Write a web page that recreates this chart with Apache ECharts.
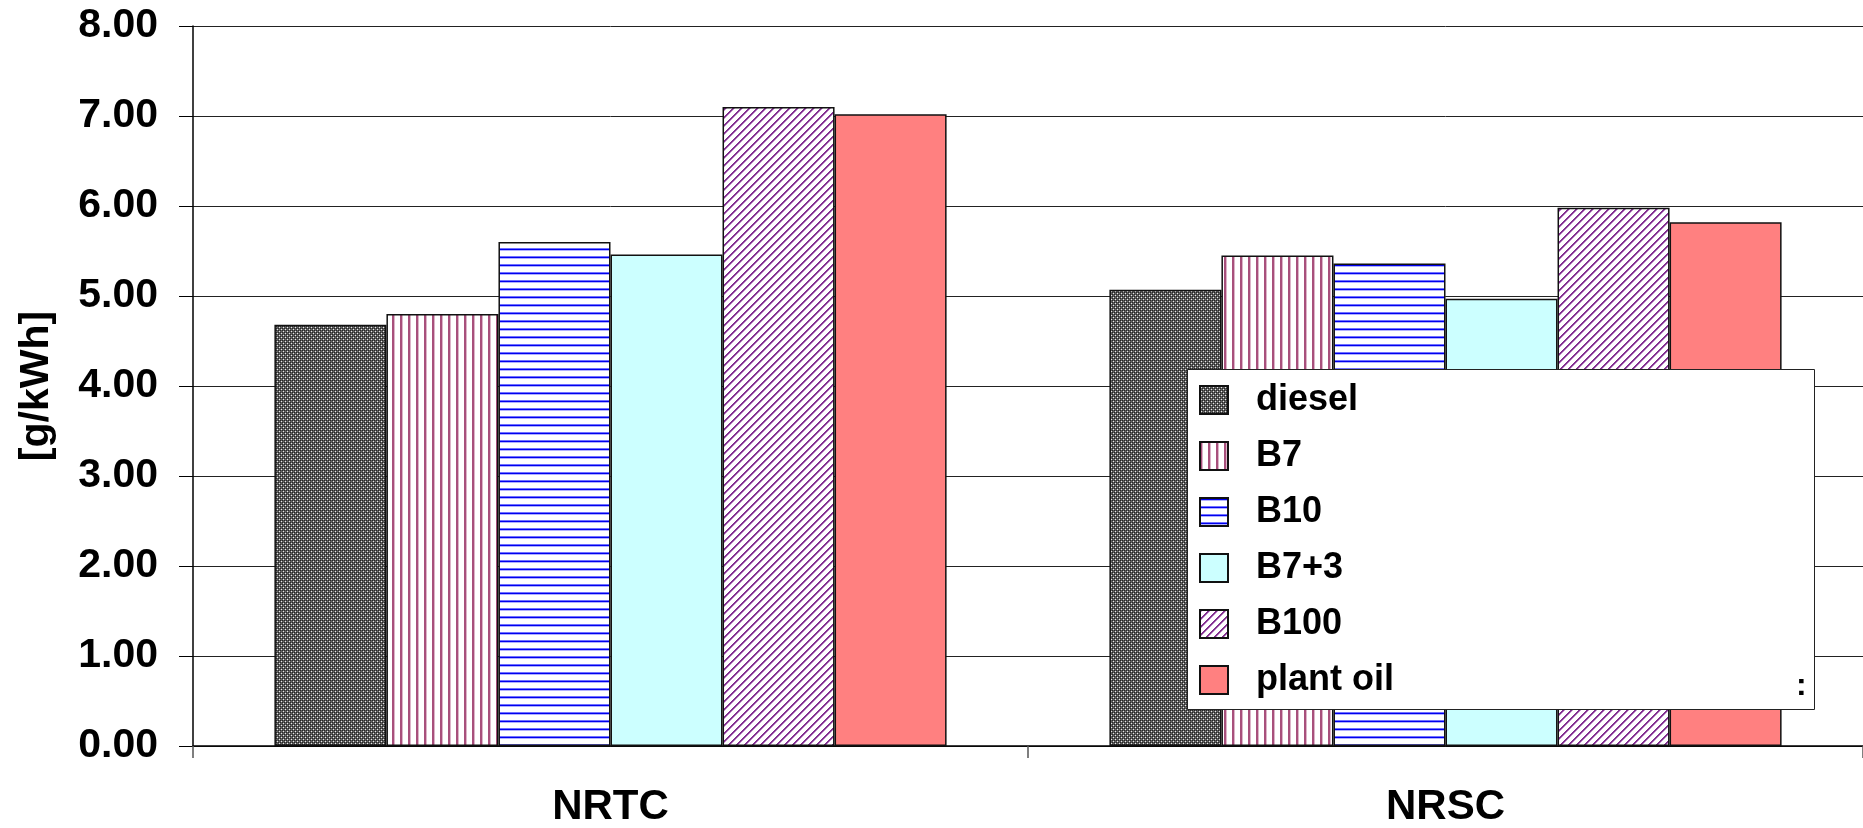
<!DOCTYPE html>
<html>
<head>
<meta charset="utf-8">
<script src="https://cdn.jsdelivr.net/npm/echarts@6/dist/echarts.min.js"></script>
<style>
  html, body { margin: 0; padding: 0; background: #fff; }
  #chart { width: 1863px; height: 828px; }
</style>
</head>
<body>
<div id="chart"></div>
<script>
// Emissions per test cycle, g/kWh
const categories = ['NRTC', 'NRSC'];
const seriesNames = ['diesel', 'B7', 'B10', 'B7+3', 'B100', 'plant oil'];
const diesel   = [4.68, 5.07];
const b7       = [4.80, 5.45];
const b10      = [5.60, 5.36];
const b7plus3  = [5.46, 4.97];
const b100     = [7.10, 5.98];
const plantOil = [7.02, 5.82];
const yMin = 0, yMax = 8, yStep = 1;

const FONT = '"Liberation Sans", Arial, sans-serif';

// Small canvas tiles used as repeating fill patterns
function tile(w, h, paint) {
  const c = document.createElement('canvas');
  c.width = w; c.height = h;
  const ctx = c.getContext('2d');
  ctx.fillStyle = '#ffffff';
  ctx.fillRect(0, 0, w, h);
  paint(ctx);
  return c;
}
function px(ctx, x, y, col) { ctx.fillStyle = col; ctx.fillRect(x, y, 1, 1); }

const checkerTile = tile(4, 4, ctx => {
  const D = '#262626', L = '#5e5e5e', W = '#e8e8e8';
  const grid = [
    [D, L, D, L],
    [L, W, L, L],
    [D, L, D, L],
    [L, L, L, W]
  ];
  for (let y = 0; y < 4; y++) for (let x = 0; x < 4; x++) px(ctx, x, y, grid[y][x]);
});
const verticalTile = tile(8, 1, ctx => {
  px(ctx, 0, 0, '#a8507c');
  px(ctx, 1, 0, '#a8507c');
  px(ctx, 2, 0, '#dcb4c8');
});
const horizontalTile = tile(1, 8, ctx => {
  px(ctx, 0, 0, '#7070ff');
  px(ctx, 0, 1, '#0000ee');
  px(ctx, 0, 2, '#b0b0ff');
});
const diagonalTile = tile(8, 8, ctx => {
  for (let y = 0; y < 8; y++) for (let x = 0; x < 8; x++) {
    const d = (x + y) % 8;
    if (d === 0 || d === 1) px(ctx, x, y, '#823090');
    else if (d === 2) px(ctx, x, y, '#c79ad0');
  }
});

const fills = [
  { image: checkerTile, repeat: 'repeat' },
  { image: verticalTile, repeat: 'repeat' },
  { image: horizontalTile, repeat: 'repeat' },
  '#ccffff',
  { image: diagonalTile, repeat: 'repeat' },
  '#ff8080'
];
const values = [diesel, b7, b10, b7plus3, b100, plantOil];

const series = seriesNames.map((name, i) => ({
  name,
  type: 'bar',
  data: values[i],
  barGap: '0%',
  barCategoryGap: '19.5%',
  itemStyle: { color: fills[i], borderColor: '#111', borderWidth: 1.5 },
  emphasis: { disabled: true }
}));

const chart = echarts.init(document.getElementById('chart'), null, { renderer: 'canvas' });
chart.setOption({
  animation: false,
  backgroundColor: '#ffffff',
  grid: { left: 193, right: 0, top: 26, bottom: 82, containLabel: false },
  xAxis: {
    type: 'category',
    data: categories,
    axisLine: { lineStyle: { color: '#000', width: 1.5 } },
    axisTick: { show: true, length: 12, lineStyle: { color: '#555', width: 1.5 } },
    axisLabel: { margin: 40, fontFamily: FONT, fontSize: 42, fontWeight: 'bold', color: '#000' }
  },
  yAxis: {
    type: 'value',
    min: yMin, max: yMax, interval: yStep,
    name: '[g/kWh]',
    nameLocation: 'middle',
    nameRotate: 90,
    nameGap: 136,
    nameTextStyle: { fontFamily: FONT, fontSize: 41, fontWeight: 'bold', color: '#000' },
    axisLine: { show: true, lineStyle: { color: '#000', width: 1.5 } },
    axisTick: { show: true, length: 14, lineStyle: { color: '#000', width: 1 } },
    axisLabel: {
      margin: 35, fontFamily: FONT, fontSize: 41, fontWeight: 'bold', color: '#000',
      formatter: v => v.toFixed(2)
    },
    splitLine: { show: true, lineStyle: { color: '#222', width: 1 } }
  },
  legend: {
    orient: 'vertical',
    left: 1199, top: 382,
    padding: 0,
    icon: 'rect',
    itemWidth: 28, itemHeight: 28, itemGap: 20,
    selectedMode: false,
    data: seriesNames,
    textStyle: {
      fontFamily: FONT, fontSize: 36, fontWeight: 'bold', color: '#000',
      lineHeight: 28, padding: [0, 0, 0, 23]
    }
  },
  graphic: [
    {
      type: 'rect', z: 3,
      shape: { x: 1187.5, y: 369.5, width: 627, height: 340 },
      style: { fill: '#ffffff', stroke: '#222', lineWidth: 1 }
    },
    {
      type: 'text', z: 5, left: 1796, top: 670,
      style: { text: ':', font: 'bold 32px ' + FONT, fill: '#000' }
    }
  ],
  series
});
</script>
</body>
</html>
